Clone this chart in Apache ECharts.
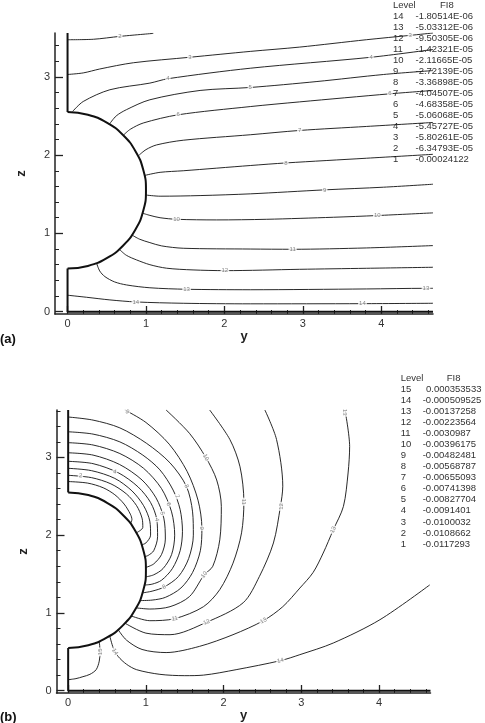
<!DOCTYPE html>
<html>
<head>
<meta charset="utf-8">
<script src="https://cdn.jsdelivr.net/npm/echarts@6/dist/echarts.min.js"></script>
<style>
  html, body { margin: 0; padding: 0; background: #fff; }
  #chart { width: 485px; height: 723px; }
</style>
</head>
<body>
<div id="chart"></div>
<script>
const FONT = '"Liberation Sans", Arial, sans-serif';

// tick values
const xMajor = [0, 1, 2, 3, 4];
const zMajor = [0, 1, 2, 3];
const xMinor = [0.2, 0.4, 0.6, 0.8, 1.2, 1.4, 1.6, 1.8, 2.2, 2.4, 2.6, 2.8, 3.2, 3.4, 3.6, 3.8, 4.2, 4.4, 4.6];
const zMinorA = [0.2, 0.4, 0.6, 0.8, 1.2, 1.4, 1.6, 1.8, 2.2, 2.4, 2.6, 2.8, 3.2, 3.4];
const zMinorB = [0.2, 0.4, 0.6, 0.8, 1.2, 1.4, 1.6, 1.8, 2.2, 2.4, 2.6, 2.8, 3.2, 3.4, 3.6];

// legend tables
const levelsA = ['14', '13', '12', '11', '10', '9', '8', '7', '6', '5', '4', '3', '2', '1'];
const valuesA = ['-1.80514E-06', '-5.03312E-06', '-9.50305E-06', '-1.42321E-05', '-2.11665E-05', '-2.72139E-05',
  '-3.36898E-05', '-4.04507E-05', '-4.68358E-05', '-5.06068E-05', '-5.45727E-05', '-5.80261E-05', '-6.34793E-05', '-0.00024122'];
const levelsB = ['15', '14', '13', '12', '11', '10', '9', '8', '7', '6', '5', '4', '3', '2', '1'];
const valuesB = ['0.000353533', '-0.000509525', '-0.00137258', '-0.00223564', '-0.0030987', '-0.00396175', '-0.00482481',
  '-0.00568787', '-0.00655093', '-0.00741398', '-0.00827704', '-0.0091401', '-0.0100032', '-0.0108662', '-0.0117293'];

// geometry: wall + half sphere (y, z)
const circlePts = [[0, 2.55], [0.259, 2.516], [0.5, 2.416], [0.707, 2.257], [0.866, 2.05], [0.966, 1.809], [1, 1.55],
  [0.966, 1.291], [0.866, 1.05], [0.707, 0.843], [0.5, 0.684], [0.259, 0.584], [0, 0.55]];
const wallTopA = [[0, 3.56], [0, 2.55]];
const wallTopB = [[0, 3.61], [0, 2.55]];
const wallBottom = [[0, 0.55], [0, 0], [4.66, 0]];

// (a) contour lines, level 2..14
const a2 = [[0, 3.474], [0.33, 3.48], [0.667, 3.517], [1.093, 3.555]];
const a3 = [[0, 3.03], [0.2, 3.05], [0.41, 3.1], [0.84, 3.18], [1.56, 3.25], [2.33, 3.325], [2.96, 3.38], [3.81, 3.474], [4.37, 3.53], [4.66, 3.56]];
const a4 = [[0.064, 2.557], [0.2, 2.685], [0.54, 2.835], [1.05, 2.92], [1.28, 2.976], [2.33, 3.11], [3.87, 3.25], [4.66, 3.35]];
const a5 = [[0.53, 2.39], [0.62, 2.5], [0.75, 2.58], [1.05, 2.707], [1.69, 2.826], [2.33, 2.864], [3.18, 2.94], [4.03, 3.03], [4.66, 3.08]];
const a6 = [[0.718, 2.26], [0.8, 2.33], [0.965, 2.41], [1.41, 2.515], [2.33, 2.62], [2.96, 2.68], [4.11, 2.783], [4.66, 2.826]];
const a7 = [[0.913, 2.0], [1.0, 2.07], [1.135, 2.13], [1.475, 2.19], [2.33, 2.26], [2.96, 2.315], [3.81, 2.366], [4.66, 2.417]];
const a8 = [[0.982, 1.74], [1.18, 1.78], [1.475, 1.8], [2.33, 1.867], [2.785, 1.9], [3.81, 1.96], [4.66, 2.01]];
const a9 = [[0.998, 1.49], [1.18, 1.475], [1.69, 1.483], [2.33, 1.505], [3.28, 1.556], [4.03, 1.59], [4.66, 1.628]];
const a10 = [[0.956, 1.258], [1.05, 1.23], [1.18, 1.2], [1.39, 1.18], [1.9, 1.172], [2.54, 1.18], [3.39, 1.206], [3.95, 1.228], [4.66, 1.262]];
const a11 = [[0.82, 0.98], [0.92, 0.925], [1.05, 0.882], [1.2, 0.84], [1.475, 0.81], [2.33, 0.8], [2.87, 0.797], [3.81, 0.814], [4.66, 0.844]];
const a12 = [[0.667, 0.79], [0.75, 0.72], [0.88, 0.661], [1.05, 0.6], [1.263, 0.555], [1.6, 0.533], [2.006, 0.524], [2.96, 0.541], [3.81, 0.554], [4.66, 0.567]];
const a13 = [[0.37, 0.621], [0.41, 0.52], [0.476, 0.448], [0.6, 0.38], [0.753, 0.341], [1.05, 0.305], [1.518, 0.286], [2.33, 0.28], [3.81, 0.29], [4.57, 0.298], [4.66, 0.298]];
const a14 = [[0, 0.21], [0.24, 0.184], [0.54, 0.15], [0.871, 0.124], [1.475, 0.107], [2.33, 0.1], [3.76, 0.102], [4.66, 0.107]];
const linesA = [a2, a3, a4, a5, a6, a7, a8, a9, a10, a11, a12, a13, a14];

// (b) contour lines, level 1..15
const b1 = [[0, 2.69], [0.25, 2.67], [0.45, 2.61], [0.6, 2.52], [0.72, 2.4], [0.8, 2.27], [0.82, 2.2], [0.8, 2.15]];
const b2 = [[0, 2.77], [0.3, 2.74], [0.55, 2.66], [0.75, 2.53], [0.88, 2.38], [0.95, 2.22], [0.96, 2.1], [0.877, 2.03]];
const b3 = [[0, 2.86], [0.3, 2.83], [0.6, 2.73], [0.82, 2.57], [0.97, 2.38], [1.05, 2.18], [1.06, 2.0], [1.0, 1.9], [0.946, 1.876]];
const b4 = [[0, 2.95], [0.32, 2.92], [0.65, 2.8], [0.9, 2.62], [1.06, 2.42], [1.14, 2.2], [1.15, 1.98], [1.1, 1.8], [1.03, 1.74], [0.985, 1.724]];
const b5 = [[0, 3.06], [0.32, 3.03], [0.66, 2.91], [0.95, 2.71], [1.13, 2.48], [1.23, 2.22], [1.25, 1.95], [1.2, 1.75], [1.1, 1.63], [0.999, 1.585]];
const b6 = [[0, 3.19], [0.32, 3.16], [0.665, 3.05], [0.97, 2.86], [1.2, 2.6], [1.33, 2.3], [1.37, 2.0], [1.33, 1.75], [1.22, 1.57], [1.1, 1.49], [0.996, 1.463]];
const b7 = [[0, 3.33], [0.32, 3.3], [0.665, 3.2], [0.96, 3.03], [1.18, 2.84], [1.35, 2.58], [1.44, 2.33], [1.47, 2.05], [1.44, 1.8], [1.34, 1.57], [1.2, 1.42], [1.08, 1.37], [0.982, 1.359]];
const b8 = [[0, 3.52], [0.32, 3.48], [0.665, 3.38], [1.01, 3.18], [1.31, 2.93], [1.52, 2.63], [1.6, 2.3], [1.61, 2.0], [1.55, 1.7], [1.42, 1.47], [1.234, 1.333], [1.08, 1.28], [0.956, 1.258]];
const b9 = [[0.73, 3.61], [1.0, 3.45], [1.3, 3.17], [1.53, 2.82], [1.67, 2.45], [1.72, 2.09], [1.7, 1.8], [1.6, 1.52], [1.45, 1.32], [1.25, 1.2], [1.08, 1.165], [0.921, 1.159]];
const b10 = [[1.26, 3.61], [1.56, 3.31], [1.77, 3.0], [1.91, 2.71], [1.97, 2.37], [1.95, 1.94], [1.86, 1.6], [1.75, 1.49], [1.56, 1.21], [1.31, 1.08], [1.05, 1.05], [0.875, 1.065]];
const b11 = [[1.82, 3.61], [2.08, 3.23], [2.21, 2.88], [2.26, 2.43], [2.23, 2.03], [2.12, 1.64], [1.95, 1.3], [1.74, 1.08], [1.37, 0.926], [1.05, 0.9], [0.809, 0.962]];
const b12 = [[2.53, 3.61], [2.68, 3.23], [2.76, 2.63], [2.73, 2.37], [2.64, 1.9], [2.46, 1.47], [2.25, 1.13], [1.78, 0.88], [1.31, 0.72], [1.0, 0.74], [0.731, 0.868]];
const b13 = [[3.56, 3.61], [3.62, 3.14], [3.6, 2.8], [3.54, 2.37], [3.41, 2.07], [3.28, 1.77], [3.15, 1.52], [2.98, 1.32], [2.76, 1.08], [2.51, 0.9],
  [2.12, 0.72], [1.69, 0.57], [1.26, 0.49], [0.95, 0.53], [0.75, 0.65], [0.643, 0.784]];
const b14 = [[0.536, 0.7], [0.58, 0.55], [0.643, 0.44], [0.75, 0.34], [0.88, 0.27], [1.18, 0.21], [1.5, 0.193], [1.74, 0.2], [2.16, 0.27],
  [2.73, 0.386], [2.98, 0.463], [3.41, 0.613], [4.01, 0.913], [4.65, 1.36]];
const b15 = [[0.4, 0.635], [0.41, 0.5], [0.4, 0.38], [0.36, 0.27], [0.28, 0.21], [0.19, 0.18], [0.1, 0.155], [0, 0.141]];
const linesB = [b1, b2, b3, b4, b5, b6, b7, b8, b9, b10, b11, b12, b13, b14, b15];

// contour labels: y, z, text
const labelsA = [[0.667, 3.517, '2'], [1.56, 3.25, '3'], [4.37, 3.53, '3'], [1.28, 2.976, '4'], [3.87, 3.25, '4'], [2.33, 2.864, '5'],
  [1.41, 2.515, '6'], [4.11, 2.783, '6'], [2.96, 2.315, '7'], [2.785, 1.9, '8'], [3.28, 1.556, '9'], [1.39, 1.18, '10'],
  [3.95, 1.228, '10'], [2.87, 0.797, '11'], [2.006, 0.524, '12'], [1.518, 0.286, '13'], [4.57, 0.298, '13'], [0.871, 0.124, '14'], [3.76, 0.102, '14']];
const labelsB = [[0.76, 3.585, '9'], [0.16, 2.765, '2'], [0.6, 2.815, '4'], [1.77, 3.0, '10'], [1.52, 2.63, '8'], [1.4, 2.5, '7'],
  [1.29, 2.4, '6'], [1.21, 2.28, '5'], [1.14, 2.2, '4'], [1.72, 2.09, '9'], [2.26, 2.43, '11'], [2.74, 2.37, '12'], [3.56, 3.58, '13'],
  [3.41, 2.07, '13'], [1.75, 1.49, '10'], [1.234, 1.333, '8'], [1.37, 0.926, '11'], [1.78, 0.88, '12'], [2.51, 0.9, '13'],
  [2.73, 0.386, '14'], [0.41, 0.5, '15'], [0.6, 0.5, '14']];
const labelAngleB = [-35, -5, -15, -60, -65, -70, -75, -80, -85, -90, -90, 90, -90, 66, 52, 29, 10, 24, 29, 13, 90, -60];

function xAxes(grid, min) {
  return [{
    type: 'value', gridIndex: grid, min: min, max: 4.66, position: 'bottom',
    name: 'y', nameLocation: 'middle', nameGap: 13,
    nameTextStyle: { fontWeight: 'bold', fontSize: 13, color: '#222', fontFamily: FONT },
    axisLine: { show: true, onZero: false, lineStyle: { color: '#222', width: 1.5 } },
    axisTick: { show: true, inside: true, length: 8, customValues: xMajor, lineStyle: { color: '#222', width: 1.3 } },
    axisLabel: { customValues: xMajor, margin: 4, fontSize: 11, color: '#333', fontFamily: FONT },
    splitLine: { show: false }
  }, {
    type: 'value', gridIndex: grid, min: min, max: 4.66, position: 'bottom',
    axisLine: { show: false, onZero: false },
    axisTick: { show: true, inside: true, length: 4, customValues: xMinor, lineStyle: { color: '#222', width: 1 } },
    axisLabel: { show: false },
    splitLine: { show: false }
  }];
}

function yAxes(grid, max, minor) {
  return [{
    type: 'value', gridIndex: grid, min: -0.03, max: max, position: 'left',
    name: 'z', nameLocation: 'middle', nameGap: 27,
    nameTextStyle: { fontWeight: 'bold', fontSize: 13, color: '#222', fontFamily: FONT },
    axisLine: { show: true, onZero: false, lineStyle: { color: '#222', width: 1.5 } },
    axisTick: { show: true, inside: true, length: 8, customValues: zMajor, lineStyle: { color: '#222', width: 1.3 } },
    axisLabel: { customValues: zMajor, margin: 5, fontSize: 11, color: '#333', fontFamily: FONT },
    splitLine: { show: false }
  }, {
    type: 'value', gridIndex: grid, min: -0.03, max: max, position: 'left',
    axisLine: { show: false, onZero: false },
    axisTick: { show: true, inside: true, length: 4, customValues: minor, lineStyle: { color: '#222', width: 1 } },
    axisLabel: { show: false },
    splitLine: { show: false }
  }];
}

function lineSeries(data, axis, width, smooth) {
  return {
    type: 'line', xAxisIndex: axis, yAxisIndex: axis, data: data,
    symbol: 'none', smooth: smooth, silent: true, z: 2,
    lineStyle: { color: '#111', width: width }
  };
}

function labelSeries(labels, axis, angles) {
  return {
    type: 'scatter', xAxisIndex: axis, yAxisIndex: axis, symbolSize: 1, silent: true, z: 5,
    itemStyle: { color: 'rgba(0,0,0,0)' },
    data: labels.map((l, i) => ({
      value: l,
      label: { rotate: angles ? angles[i] : 0 }
    })),
    label: {
      show: true, position: 'inside', formatter: p => p.value[2],
      fontSize: 6, color: '#666', fontFamily: FONT,
      backgroundColor: '#fff', padding: [0, 1]
    }
  };
}

function legendTable(levels, values, levelX, valX, fi8X, headY, rowY, step) {
  const font = '9.5px ' + FONT;
  const items = [
    { type: 'text', x: levelX, y: headY, style: { text: 'Level', font: font, fill: '#333', verticalAlign: 'middle' } },
    { type: 'text', x: fi8X, y: headY, style: { text: 'FI8', font: font, fill: '#333', verticalAlign: 'middle' } }
  ];
  levels.forEach((lv, i) => {
    const v = values[i];
    items.push({ type: 'text', x: levelX, y: rowY + i * step, style: { text: lv, font: font, fill: '#333', verticalAlign: 'middle' } });
    items.push({ type: 'text', x: valX + (v.charAt(0) === '-' ? 0 : 3.3), y: rowY + i * step, style: { text: v, font: font, fill: '#333', verticalAlign: 'middle' } });
  });
  return items;
}

const series = [];
linesA.forEach(d => series.push(lineSeries(d, 0, 0.9, 0.3)));
series.push(lineSeries(wallTopA, 0, 2, false));
series.push(lineSeries(circlePts, 0, 2, true));
series.push(lineSeries(wallBottom, 0, 2, false));
series.push(labelSeries(labelsA, 0, null));

linesB.forEach(d => series.push(Object.assign(lineSeries(d, 2, 0.9, 0.3), { xAxisIndex: 2, yAxisIndex: 2 })));
series.push(lineSeries(wallTopB, 2, 2, false));
series.push(lineSeries(circlePts, 2, 2, true));
series.push(lineSeries(wallBottom, 2, 2, false));
series.push(labelSeries(labelsB, 2, labelAngleB));

const option = {
  animation: false,
  backgroundColor: '#fff',
  textStyle: { fontFamily: FONT },
  grid: [
    { left: 55, top: 33, width: 378, height: 281 },
    { left: 56.5, top: 410, width: 374, height: 283 }
  ],
  xAxis: xAxes(0, -0.16).concat(xAxes(1, -0.15)),
  yAxis: yAxes(0, 3.56, zMinorA).concat(yAxes(1, 3.61, zMinorB)),
  series: series,
  graphic: legendTable(levelsA, valuesA, 393, 415.5, 440, 5.7, 16.3, 11)
    .concat(legendTable(levelsB, valuesB, 400.7, 422.7, 446.7, 378.3, 389.3, 11.05))
    .concat([
      { type: 'text', x: 0, y: 339, style: { text: '(a)', font: 'bold 13px ' + FONT, fill: '#111', verticalAlign: 'middle' } },
      { type: 'text', x: 0, y: 717, style: { text: '(b)', font: 'bold 13px ' + FONT, fill: '#111', verticalAlign: 'middle' } }
    ])
};

const chart = echarts.init(document.getElementById('chart'));
chart.setOption(option);
</script>
</body>
</html>
